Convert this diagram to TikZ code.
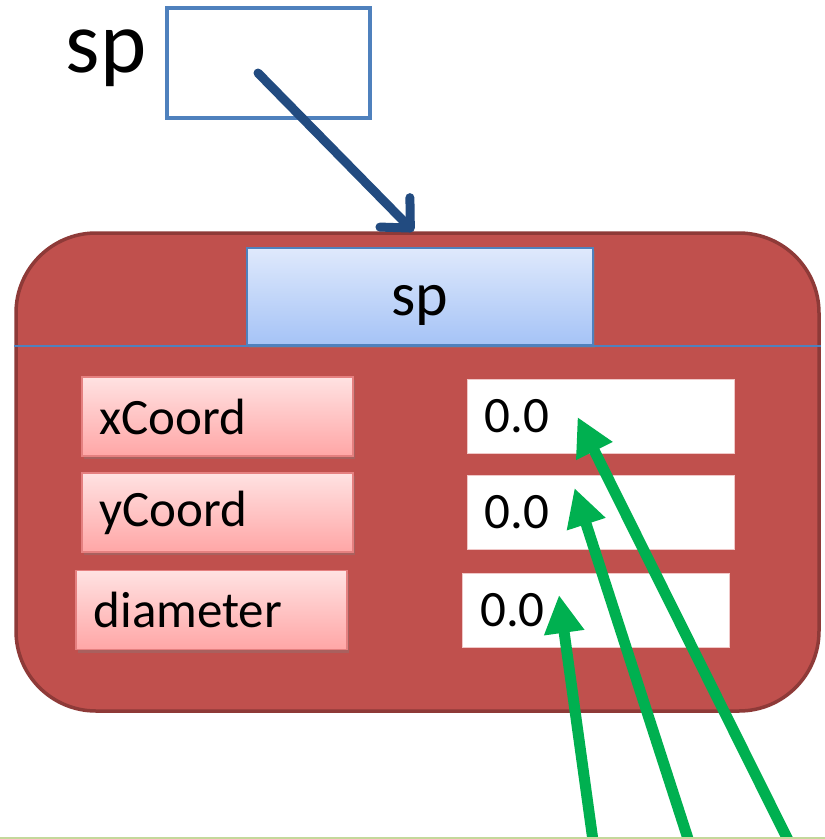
\documentclass[tikz,border=0pt]{standalone}
\usepackage{fontspec}
\setmainfont{Carlito}
\usetikzlibrary{arrows.meta,shadows,calc}
\definecolor{objred}{HTML}{C0504D}
\definecolor{objborder}{HTML}{8E3A38}
\definecolor{ptrblue}{HTML}{4F81BD}
\definecolor{arrowblue}{HTML}{224B80}
\definecolor{hdrtop}{HTML}{DFE9FC}
\definecolor{hdrbot}{HTML}{A5C3F6}
\definecolor{pinktop}{HTML}{FFE2E2}
\definecolor{pinkbot}{HTML}{FFA6A6}
\definecolor{pinkborder}{HTML}{E58080}
\definecolor{valborder}{HTML}{F0C8C8}
\definecolor{ptrgreen}{HTML}{00B050}
\definecolor{edgegreen}{HTML}{C4D89B}
\tikzset{
  objbox/.style={draw=objborder, line width=3.5pt, fill=objred, rounded corners=80pt,
    minimum width=803pt, minimum height=478pt, inner sep=0pt},
  hdrbox/.style={draw=ptrblue, line width=1.5pt, top color=hdrtop, bottom color=hdrbot,
    minimum width=346pt, minimum height=97pt, inner sep=0pt,
    drop shadow={shadow xshift=2pt, shadow yshift=-3pt, opacity=0.35}},
  fieldbox/.style={draw=pinkborder, line width=1.2pt, top color=pinktop, bottom color=pinkbot,
    minimum width=271pt, minimum height=79pt, inner sep=0pt,
    drop shadow={shadow xshift=2pt, shadow yshift=-3pt, opacity=0.35}},
  valbox/.style={draw=valborder, line width=1pt, fill=white,
    minimum width=267pt, minimum height=74pt, inner sep=0pt},
  fieldtext/.style={font=\fontsize{51}{60}\selectfont, inner sep=0pt, anchor=west},
  ptrbox/.style={draw=ptrblue, line width=4pt, minimum width=203pt, minimum height=110pt, inner sep=0pt},
  refarrow/.style={draw=arrowblue, line width=9pt, line cap=round,
    -{Straight Barb[length=22pt,width=42pt,line width=9pt,round]}},
  valarrow/.style={draw=ptrgreen, line width=11pt,
    -{Triangle[length=38pt,width=38pt]}},
  divider/.style={draw=ptrblue, line width=2pt},
  edgeline/.style={draw=edgegreen, line width=2pt},
}
\begin{document}
\begin{tikzpicture}[x=1pt,y=-1pt]
\clip (0,0) rectangle (825,839);
\fill[white] (0,0) rectangle (825,839);

% pointer variable
\node[font=\fontsize{88}{100}\selectfont, inner sep=0pt] (sptext) at (106,58) {sp};
\node[ptrbox] (ptr) at (268.5,63) {};
\coordinate (ptrsrc) at (258,73);

% object
\node[objbox] (obj) at (417.5,472) {};
\node[hdrbox] (hdr) at (420,296.5) {};
\node[font=\fontsize{62}{70}\selectfont, inner sep=0pt] (hdrtext) at ($(hdr.center)+(0,9)$) {sp};
\draw[divider] (obj.west |- hdr.south) -- (obj.east |- hdr.south);

% fields
\node[fieldbox] (fx) at (217.5,416.5) {};
\node[fieldbox] (fy) at (217.5,512.5) {};
\node[fieldbox] (fd) at (211.5,610) {};
\node[fieldtext] (fxt) at ($(fx.west)+(18,0)$) {xCoord};
\node[fieldtext] (fyt) at ($(fy.west)+(18,0)$) {yCoord};
\node[fieldtext] (fdt) at ($(fd.west)+(18,0)$) {diameter};

% values
\node[valbox] (vx) at (600.5,416) {};
\node[valbox] (vy) at (600.5,512.5) {};
\node[valbox] (vd) at (596,610) {};
\node[fieldtext] (vxt) at ($(vx.west)+(18,0)$) {0.0};
\node[fieldtext] (vyt) at ($(vy.west)+(18,0)$) {0.0};
\node[fieldtext] (vdt) at ($(vd.west)+(18,0)$) {0.0};

% reference arrow
\coordinate (objtop) at ($(obj.north)+(-4,0)$);
\draw[refarrow] (ptrsrc) -- (objtop);

% green arrows
\coordinate (t1) at ($(vx.west)+(111,1)$);
\coordinate (t2) at ($(vy.west)+(108,-24.5)$);
\coordinate (t3) at ($(vd.west)+(97,-15)$);
\coordinate (g1) at (792,848);
\coordinate (g2) at (691,848);
\coordinate (g3) at (594,848);
\draw[valarrow] (g1) -- (t1);
\draw[valarrow] (g2) -- (t2);
\draw[valarrow] (g3) -- (t3);

% bottom line
\coordinate (bl) at (0,838);
\coordinate (br) at (825,838);
\draw[edgeline] (bl) -- (br);
\end{tikzpicture}
\end{document}
